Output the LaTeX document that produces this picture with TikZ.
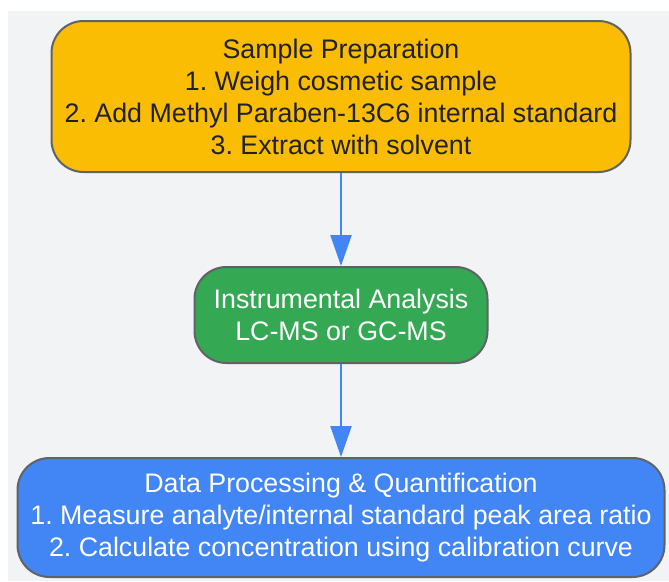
\documentclass[tikz,border=0pt]{standalone}
\usepackage{fontspec}
\setmainfont{Liberation Sans}
\usetikzlibrary{arrows.meta}
\definecolor{bgGray}{HTML}{F1F3F4}
\definecolor{boxEdge}{HTML}{5F6368}
\definecolor{prepYellow}{HTML}{FBBC04}
\definecolor{analysisGreen}{HTML}{34A853}
\definecolor{dataBlue}{HTML}{4285F4}
\definecolor{darkText}{HTML}{202124}
\frenchspacing
\begin{document}
\begin{tikzpicture}[x=1pt,y=-1pt,
    box/.style={draw=boxEdge, line width=2pt, rounded corners=32pt, align=center,
        inner sep=0pt, font=\fontsize{26.8}{32}\selectfont},
    flow/.style={draw=dataBlue, line width=2.2pt, -{Triangle[length=31pt,width=21pt]}}]
    \useasboundingbox (0,0) rectangle (669,581);
    \fill [bgGray] (8,11) rectangle (669,581);
    % the three steps
    \node [box, fill=prepYellow, text=darkText, minimum width=579pt, minimum height=151pt] (prep) at (341,96.5)
        {Sample Preparation\\1. Weigh cosmetic sample\\2. Add Methyl Paraben-13C6 internal standard\\3. Extract with solvent};
    \node [box, fill=analysisGreen, text=white, minimum width=293pt, minimum height=96pt] (analysis) at (341,315)
        {Instrumental Analysis\\LC-MS or GC-MS};
    \node [box, fill=dataBlue, text=white, minimum width=647pt, minimum height=119pt] (data) at (341,517.5)
        {Data Processing \& Quantification\\1. Measure analyte/internal standard peak area ratio\\2. Calculate concentration using calibration curve};
    % connectors
    \draw [flow] (prep) -- (analysis);
    \draw [flow] (analysis) -- (data);
\end{tikzpicture}
\end{document}
